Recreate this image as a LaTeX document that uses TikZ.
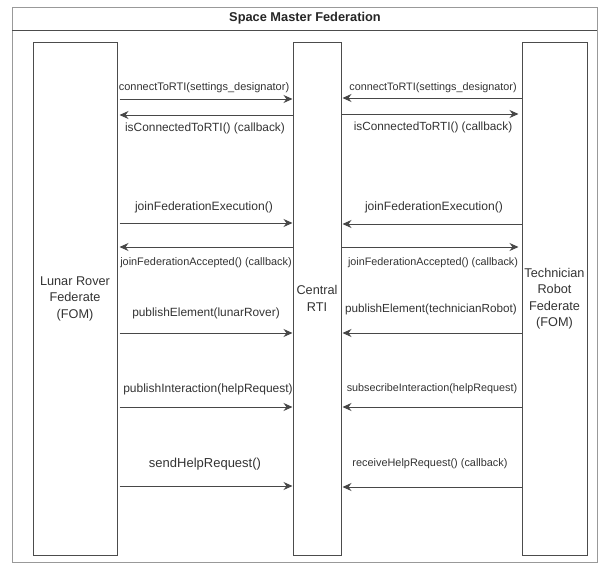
\documentclass[tikz,border=0pt]{standalone}
\usepackage{fontspec}
\setmainfont{Liberation Sans}
\usetikzlibrary{arrows.meta}
\newcommand{\msgsize}[1]{\fontsize{#1}{#1}\selectfont}

\begin{document}
\begin{tikzpicture}[x=1pt,y=-1pt,
		fed/.style={draw=black!70,line width=1pt,inner sep=0pt,align=center,text=black!80,font=\fontsize{12.7}{16.5}\selectfont},
		msg/.style={draw=black!72,line width=1pt,-{Stealth[length=9pt,width=8pt]}},
		lbl/.style={text=black!80,inner sep=1pt}]
		\useasboundingbox (0,0) rectangle (598,563);
		\draw[black!40,line width=1pt] (12,7) rectangle (597,562);
		\draw[black!70,line width=1pt] (12,30) -- (597,30);
		\node[font=\bfseries\msgsize{12.8},text=black!85] (title) at (305,18.5) {Space Master Federation};

		\node[fed,minimum width=84pt,minimum height=513pt] (lunar) at (75,298.5) {Lunar Rover\\Federate\\(FOM)};
		\node[fed,minimum width=48pt,minimum height=513pt] (rti) at (317,298.5) {Central\\RTI};
		\node[fed,minimum width=65pt,minimum height=513pt] (tech) at (554.5,298.5) {Technician\\Robot\\Federate\\(FOM)};

		\draw[msg,shorten <=2pt] (lunar.east |- 0,99) -- (rti.west |- 0,99);
		\node[lbl,font=\msgsize{11}] (lconnect) at (204,88) {connectToRTI(settings\_designator)};
		\draw[msg,shorten >=2pt] (rti.west |- 0,115) -- (lunar.east |- 0,115);
		\node[lbl,font=\msgsize{11.9}] (lconnected) at (205,128) {isConnectedToRTI() (callback)};
		\draw[msg,shorten <=2pt] (lunar.east |- 0,223) -- (rti.west |- 0,223);
		\node[lbl,font=\msgsize{12.1}] (ljoin) at (204,207) {joinFederationExecution()};
		\draw[msg,shorten >=2pt] (rti.west |- 0,247) -- (lunar.east |- 0,247);
		\node[lbl,font=\msgsize{10.9}] (laccepted) at (206,263) {joinFederationAccepted() (callback)};
		\draw[msg,shorten <=2pt] (lunar.east |- 0,333) -- (rti.west |- 0,333);
		\node[lbl,font=\msgsize{11.9}] (lpublish) at (206,313) {publishElement(lunarRover)};
		\draw[msg,shorten <=2pt] (lunar.east |- 0,407) -- (rti.west |- 0,407);
		\node[lbl,font=\msgsize{12}] (linteraction) at (208,389) {publishInteraction(helpRequest)};
		\draw[msg,shorten <=2pt] (lunar.east |- 0,486) -- (rti.west |- 0,486);
		\node[lbl,font=\msgsize{13}] (lsend) at (205,464) {sendHelpRequest()};

		\draw[msg,shorten >=1pt] (tech.west |- 0,98) -- (rti.east |- 0,98);
		\node[lbl,font=\msgsize{10.8}] (rconnect) at (433,88) {connectToRTI(settings\_designator)};
		\draw[msg,shorten >=3pt] (rti.east |- 0,114) -- (tech.west |- 0,114);
		\node[lbl,font=\msgsize{11.8}] (rconnected) at (433,127) {isConnectedToRTI() (callback)};
		\draw[msg,shorten >=1pt] (tech.west |- 0,224) -- (rti.east |- 0,224);
		\node[lbl,font=\msgsize{12.1}] (rjoin) at (434,207) {joinFederationExecution()};
		\draw[msg,shorten >=3pt] (rti.east |- 0,247) -- (tech.west |- 0,247);
		\node[lbl,font=\msgsize{10.8}] (raccepted) at (433,263) {joinFederationAccepted() (callback)};
		\draw[msg,shorten >=1pt] (tech.west |- 0,333) -- (rti.east |- 0,333);
		\node[lbl,font=\msgsize{11.7}] (rpublish) at (431,309) {publishElement(technicianRobot)};
		\draw[msg,shorten >=1pt] (tech.west |- 0,407) -- (rti.east |- 0,407);
		\node[lbl,font=\msgsize{10.8}] (rsubscribe) at (432,389) {subsecribeInteraction(helpRequest)};
		\draw[msg,shorten >=1pt] (tech.west |- 0,487) -- (rti.east |- 0,487);
		\node[lbl,font=\msgsize{10.9}] (rreceive) at (430,464) {receiveHelpRequest() (callback)};
\end{tikzpicture}
\end{document}
